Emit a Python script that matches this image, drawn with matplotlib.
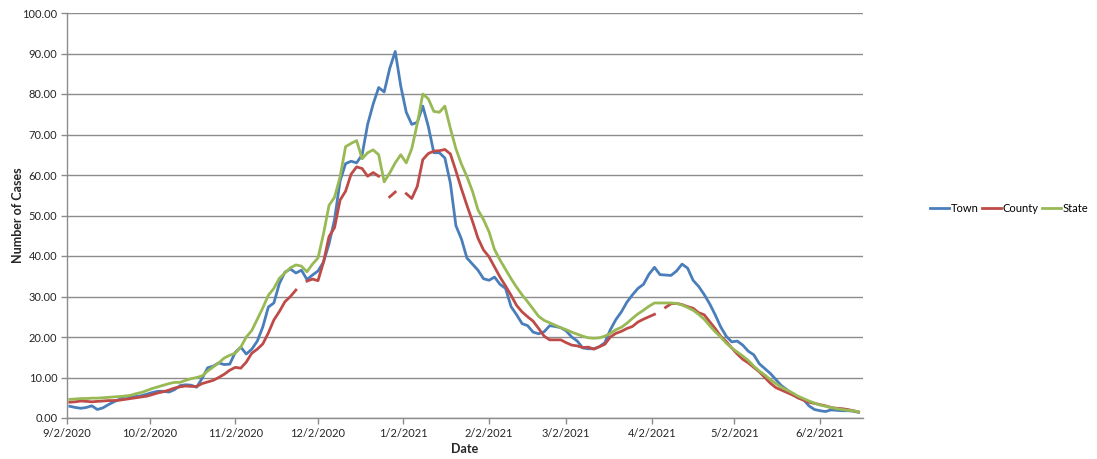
import numpy as np
import pandas as pd
import matplotlib
matplotlib.use("Agg")
import matplotlib.pyplot as plt

nan = np.nan
# Readings every 2 days, starting 9/3/2020
dates = pd.date_range("2020-09-03", periods=144, freq="2D")

town = [2.9, 2.6, 2.4, 2.6, 3.0, 2.1, 2.5, 3.3, 4.0, 4.6,
        5.4, 5.2, 5.3, 5.5, 5.9, 6.3, 6.6, 6.6, 6.4, 7.0,
        8.0, 8.2, 8.1, 7.6, 9.8, 12.4, 12.8, 13.6, 13.2, 13.3,
        16.2, 17.5, 15.8, 17.0, 19.0, 22.5, 27.4, 28.4, 33.2, 36.0,
        36.8, 35.8, 36.5, 34.2, 35.3, 36.3, 38.5, 43.0, 49.0, 58.5,
        62.8, 63.4, 63.0, 65.0, 72.5, 77.5, 81.6, 80.5, 86.3, 90.5,
        82.0, 75.5, 72.5, 73.0, 77.0, 72.0, 65.5, 65.5, 64.2, 58.0,
        47.5, 44.2, 39.5, 38.0, 36.5, 34.4, 34.0, 34.8, 33.0, 32.0,
        27.5, 25.5, 23.3, 22.8, 21.2, 20.8, 21.3, 22.8, 22.6, 22.3,
        21.5, 20.0, 19.0, 17.3, 17.1, 17.1, 17.6, 18.6, 21.8, 24.3,
        26.2, 28.6, 30.4, 32.0, 33.0, 35.5, 37.2, 35.4, 35.3, 35.2,
        36.3, 38.0, 37.0, 34.0, 32.5, 30.5, 28.2, 25.5, 22.5, 20.2,
        18.8, 19.0, 18.0, 16.5, 15.6, 13.4, 12.2, 11.0, 9.5, 8.0,
        7.0, 6.0, 5.0, 4.6, 3.0, 2.1, 1.8, 1.6, 2.0, 1.9,
        1.8, 1.8, 1.7, 1.4]

county = [3.9, 4.0, 4.2, 4.1, 4.0, 4.1, 4.2, 4.3, 4.3, 4.4,
          4.6, 4.8, 5.0, 5.2, 5.4, 5.8, 6.2, 6.5, 6.9, 7.4,
          7.7, 7.9, 7.8, 7.8, 8.5, 8.9, 9.3, 10.0, 10.8, 11.8,
          12.5, 12.3, 13.8, 16.0, 17.0, 18.3, 21.0, 24.2, 26.3, 28.7,
          30.0, 31.6, nan, 33.8, 34.3, 33.9, 38.5, 44.8, 47.0, 53.8,
          56.0, 60.2, 62.0, 61.6, 59.7, 60.6, 59.7, nan, 54.6, 55.8,
          nan, 55.4, 54.2, 57.2, 63.8, 65.3, 65.9, 66.0, 66.3, 65.2,
          61.0, 56.6, 52.5, 48.6, 44.4, 41.5, 39.8, 37.3, 34.8, 32.6,
          30.3, 27.8, 26.2, 25.0, 23.9, 22.1, 20.2, 19.3, 19.3, 19.3,
          18.6, 18.0, 17.8, 17.4, 17.5, 17.0, 17.6, 18.2, 20.0, 20.9,
          21.4, 22.1, 22.6, 23.7, 24.4, 25.0, 25.6, nan, 27.3, 28.2,
          28.3, 28.0, 27.5, 27.1, 26.0, 25.5, 23.8, 22.1, 20.2, 18.9,
          17.3, 15.8, 14.5, 13.6, 12.5, 11.4, 10.0, 8.6, 7.5, 6.9,
          6.3, 5.7, 5.0, 4.4, 3.9, 3.6, 3.3, 3.0, 2.6, 2.4,
          2.3, 2.1, 1.8, 1.5]

state = [4.6, 4.7, 4.8, 4.8, 4.9, 4.9, 5.0, 5.1, 5.2, 5.3,
         5.4, 5.6, 6.0, 6.3, 6.8, 7.3, 7.7, 8.1, 8.5, 8.8,
         8.8, 9.3, 9.7, 10.0, 10.4, 11.6, 12.6, 13.6, 14.8, 15.5,
         16.0, 17.5, 20.0, 21.6, 24.4, 27.2, 30.3, 32.0, 34.5, 35.8,
         37.1, 37.8, 37.5, 36.1, 38.0, 39.5, 45.5, 52.5, 54.5, 59.5,
         67.0, 67.8, 68.5, 64.0, 65.5, 66.2, 65.0, 58.3, 60.5, 63.0,
         65.0, 63.0, 66.5, 72.7, 80.0, 78.8, 75.7, 75.5, 77.0, 71.5,
         66.5, 62.7, 59.6, 56.0, 51.4, 49.0, 46.0, 41.6, 39.0, 36.7,
         34.4, 32.3, 30.4, 28.7, 26.9, 25.1, 24.1, 23.5, 22.9, 22.3,
         21.8, 21.2, 20.7, 20.2, 19.8, 19.7, 19.8, 20.2, 20.9, 21.8,
         22.4, 23.4, 24.6, 25.7, 26.6, 27.6, 28.4, 28.4, 28.4, 28.4,
         28.3, 27.9, 27.3, 26.6, 25.6, 24.4, 22.8, 21.3, 20.0, 18.5,
         17.3, 16.3, 15.3, 14.2, 12.8, 11.6, 10.6, 9.5, 8.5, 7.6,
         6.9, 6.2, 5.4, 4.8, 4.2, 3.7, 3.2, 2.9, 2.6, 2.3,
         2.1, 1.9, 1.8, 1.5]

series_names = ["Town", "County", "State"]
series_colors = ["#4A7EBB", "#BE4B48", "#98B954"]

tick_dates = ["2020-09-02", "2020-10-02", "2020-11-02", "2020-12-02",
              "2021-01-02", "2021-02-02", "2021-03-02", "2021-04-02",
              "2021-05-02", "2021-06-02"]
tick_labels = ["9/2/2020", "10/2/2020", "11/2/2020", "12/2/2020",
               "1/2/2021", "2/2/2021", "3/2/2021", "4/2/2021",
               "5/2/2021", "6/2/2021"]

plt.rcParams["font.family"] = ["Lato", "DejaVu Sans"]

fig = plt.figure(figsize=(10.97, 4.59), dpi=100)
ax = fig.add_axes([67 / 1097, 41 / 459, (863 - 67) / 1097, (446 - 41) / 459])

for vals, name, col in zip([town, county, state], series_names, series_colors):
    ax.plot(dates, vals, color=col, lw=2.0, label=name, solid_joinstyle="round")

ax.set_ylim(0, 100)
ax.set_yticks(np.arange(0, 101, 10))
ax.set_yticklabels([f"{v:.2f}" for v in np.arange(0, 101, 10)])
start = pd.Timestamp("2020-09-02")
ax.set_xlim(start, start + pd.Timedelta(days=288.6))
ax.set_xticks(pd.to_datetime(tick_dates))
ax.set_xticklabels(tick_labels)

ax.grid(axis="y", color="#8c8c8c", lw=1.0)
ax.set_axisbelow(True)
for s in ["top", "right"]:
    ax.spines[s].set_visible(False)
for s in ["left", "bottom"]:
    ax.spines[s].set_color("#8c8c8c")
    ax.spines[s].set_linewidth(1.0)
ax.tick_params(axis="both", colors="#8c8c8c", length=4, width=1,
               labelsize=8, labelcolor="#262626")
ax.tick_params(axis="y", pad=3)

ax.set_xlabel("Date", fontsize=9, fontweight="bold", color="#262626")
ax.xaxis.set_label_coords(0.5, -(443 - 418) / 405)
ax.set_ylabel("Number of Cases", fontsize=9, fontweight="bold", color="#262626")
ax.yaxis.set_label_coords(-(43) / 796, 0.5)

fig.legend(loc="center", bbox_to_anchor=(1009 / 1097, 1 - 208 / 459), ncol=3,
           frameon=False, fontsize=8, handlelength=1.7, handletextpad=0.15,
           columnspacing=0.3, borderpad=0.1)

fig.savefig("out.png", dpi=100)
